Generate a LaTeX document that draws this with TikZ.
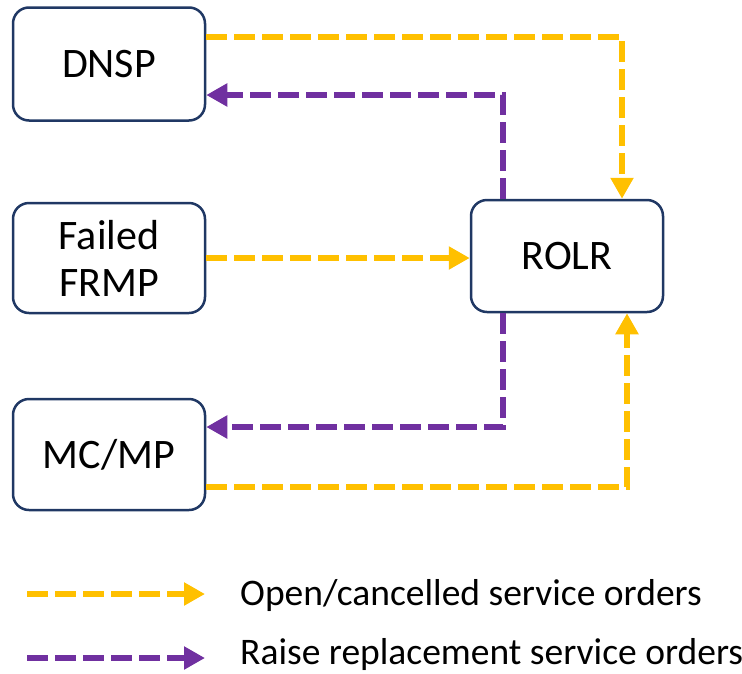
\documentclass[tikz,border=0pt]{standalone}
\usepackage{fontspec}
\setmainfont{Carlito}
\usetikzlibrary{arrows.meta}
\definecolor{ylw}{HTML}{FFC000}
\definecolor{prp}{HTML}{7030A0}
\definecolor{navy}{HTML}{203864}
\tikzset{
  box/.style={draw=navy, line width=2.5pt, rounded corners=16pt, fill=white,
    minimum width=192pt, inner sep=0pt, align=center,
    font=\fontsize{42}{47}\selectfont},
  flow/.style={line width=6.5pt, dash pattern=on 21pt off 7pt,
    -{Triangle[length=21pt,width=22pt]}},
  yflow/.style={flow, draw=ylw, ylw},
  pflow/.style={flow, draw=prp, prp},
  legtext/.style={anchor=base west, inner sep=0pt, font=\fontsize{37.5}{44}\selectfont}
}
\begin{document}
\begin{tikzpicture}[x=1pt,y=-1pt]
\useasboundingbox (0,0) rectangle (742,673);
\node[box, minimum height=113pt] (DNSP) at (109,64) {DNSP};
\node[box, minimum height=110pt] (FRMP) at (109,258) {Failed\\FRMP};
\node[box, minimum height=111pt] (MCMP) at (109,454.5) {MC/MP};
\node[box, minimum height=112pt] (ROLR) at (567,256) {ROLR};
\coordinate (c1) at (622,37);
\coordinate (c2) at (503,95);
\coordinate (c3) at (503,427);
\coordinate (c4) at (627,487);
\draw[yflow] (DNSP.east |- c1) -| (ROLR.north -| c1);
\draw[pflow] (ROLR.north -| c2) |- (DNSP.east |- c2);
\draw[yflow] (FRMP.east) -- (ROLR.west |- FRMP.east);
\draw[pflow] (ROLR.south -| c3) |- (MCMP.east |- c3);
\draw[yflow] (MCMP.east |- c4) -| (ROLR.south -| c4);
% legend
\coordinate (l1a) at (27,594);
\coordinate (l1b) at (205,594);
\coordinate (l2a) at (27,658);
\coordinate (l2b) at (205,658);
\draw[yflow] (l1a) -- (l1b);
\draw[pflow] (l2a) -- (l2b);
\node[legtext] (t1) at (240,605) {Open/cancelled service orders};
\node[legtext] (t2) at (240,664) {Raise replacement service orders};
\end{tikzpicture}
\end{document}
